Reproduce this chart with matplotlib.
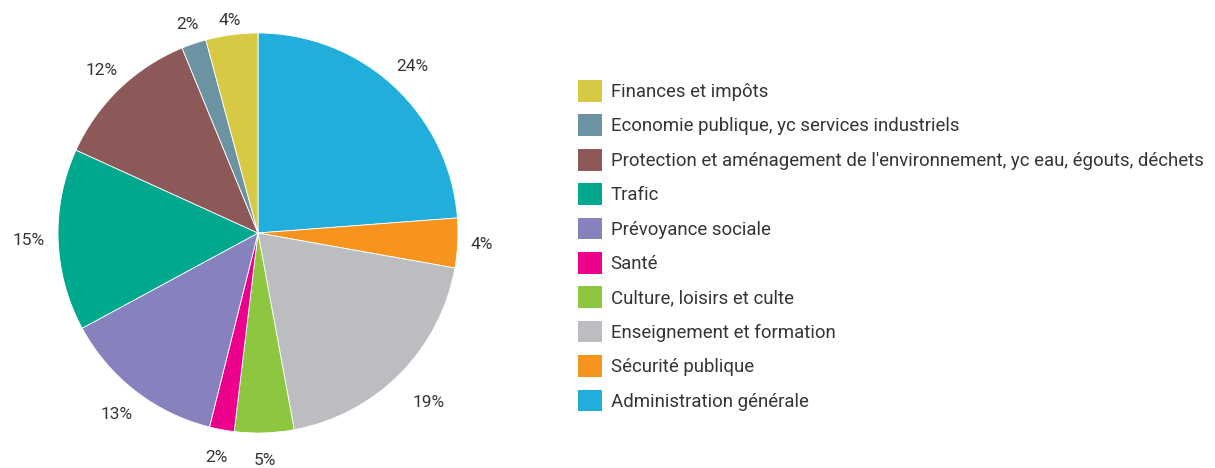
import matplotlib
matplotlib.use("Agg")
import numpy as np
import matplotlib.pyplot as plt
from matplotlib.patches import Patch

# slices clockwise from 12 o'clock
categories = [
    "Administration générale",
    "Sécurité publique",
    "Enseignement et formation",
    "Culture, loisirs et culte",
    "Santé",
    "Prévoyance sociale",
    "Trafic",
    "Protection et aménagement de l'environnement, yc eau, égouts, déchets",
    "Economie publique, yc services industriels",
    "Finances et impôts",
]
shares = [23.8, 4.0, 19.3, 4.8, 2.0, 13.2, 14.7, 12.0, 2.0, 4.2]
colors = ["#21AEDB", "#F7941D", "#BCBDC0", "#8DC63F", "#EC008C",
          "#8781BD", "#00A88E", "#8C5858", "#6C93A1", "#D7C944"]
# how far out each percentage label sits (in pie radii)
label_r = [1.135, 1.12, 1.20, 1.14, 1.14, 1.15, 1.15, 1.13, 1.10, 1.07]

plt.rcParams['font.family'] = ['Roboto', 'DejaVu Sans']
text_col = "#353535"

W, H = 1215, 468
fig = plt.figure(figsize=(W / 100, H / 100), dpi=100)
ax = fig.add_axes([58 / W, 35 / H, 400 / W, 400 / H])

wedges, _ = ax.pie(shares, colors=colors, startangle=90, counterclock=False,
                   wedgeprops=dict(linewidth=0.6, edgecolor="white"))
total = sum(shares)
for w, s, r in zip(wedges, shares, label_r):
    mid = np.deg2rad((w.theta1 + w.theta2) / 2)
    ax.text(r * np.cos(mid), r * np.sin(mid), f"{s / total * 100:.0f}%",
            ha="center", va="center", color=text_col, fontsize=12.5,
            clip_on=False)
ax.set_xlim(-1, 1)
ax.set_ylim(-1, 1)
ax.set_aspect("equal")
ax.axis("off")

# legend lists the slices bottom-up
handles = [Patch(facecolor=c, edgecolor="none") for c in colors[::-1]]
fig.legend(handles, categories[::-1], loc="upper left",
           bbox_to_anchor=(578 / W, 1 - 80 / H), frameon=False,
           labelcolor=text_col, prop=dict(size=13.4),
           handlelength=1.3, handleheight=1.42, handletextpad=0.45,
           labelspacing=0.68, borderaxespad=0, borderpad=0)

fig.savefig("out.png", dpi=100)
